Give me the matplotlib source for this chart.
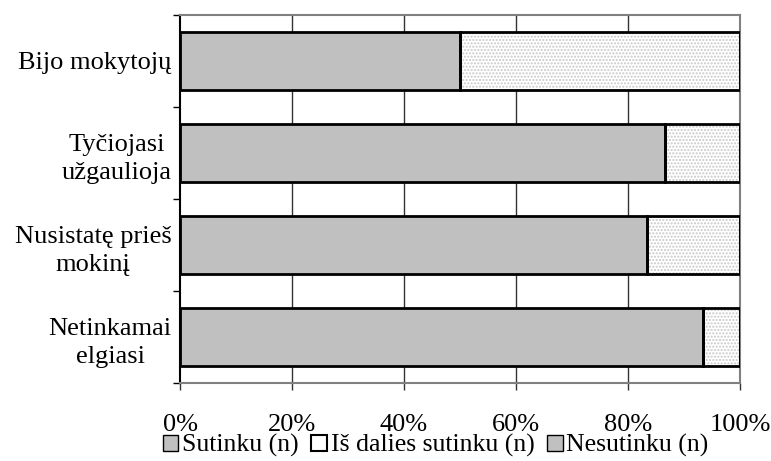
import matplotlib.pyplot as plt
from matplotlib.patches import Patch
import numpy as np

plt.rcParams['font.family'] = ['Liberation Serif', 'DejaVu Serif']

categories = ["Bijo mokytojų", "Tyčiojasi\nužgaulioja", "Nusistatę prieš\nmokinį", "Netinkamai\nelgiasi"]
sutinku = [15, 26, 25, 28]
is_dalies = [15, 4, 5, 2]
nesutinku = [0, 0, 0, 0]
xticks = [0, 20, 40, 60, 80, 100]
xlabels = ["0%", "20%", "40%", "60%", "80%", "100%"]

s = np.array(sutinku, float)
d = np.array(is_dalies, float)
n = np.array(nesutinku, float)
tot = s + d + n
s_pct = s / tot * 100
d_pct = d / tot * 100
n_pct = n / tot * 100

fig = plt.figure(figsize=(7.71, 4.61), dpi=100)
ax = fig.add_axes([180/771, 1 - 383/461, 560/771, 368/461])

y = np.arange(len(categories))[::-1]
h = 0.62

# fills
ax.barh(y, s_pct, height=h, color='#c0c0c0', linewidth=0, zorder=2)
ax.barh(y, d_pct, left=s_pct, height=h, facecolor='white', hatch='.....',
        edgecolor='#c8c8c8', linewidth=0, zorder=2)
ax.barh(y, n_pct, left=s_pct + d_pct, height=h, facecolor='#c0c0c0', hatch='|||',
        edgecolor='#808080', linewidth=0, zorder=2)
# outlines
for vals, left in [(s_pct, 0), (d_pct, s_pct), (n_pct, s_pct + d_pct)]:
    ax.barh(y, vals, left=left, height=h, fill=False, edgecolor='black',
            linewidth=2, zorder=3)

ax.set_xlim(0, 100)
ax.set_ylim(-0.5, len(categories) - 0.5)
ax.set_xticks(xticks)
ax.set_xticklabels(xlabels, fontsize=19)
ax.set_yticks(y)
ax.set_yticklabels(categories, fontsize=19, multialignment='center', linespacing=1.4)
ax.set_yticks(np.arange(len(categories) + 1) - 0.5, minor=True)
ax.tick_params(axis='y', which='major', length=0, pad=6)
ax.tick_params(axis='y', which='minor', length=5, width=1, direction='out', color='black')
ax.tick_params(axis='x', which='major', length=5, width=1, direction='out', pad=17,
               color='#333333')

for xv in xticks[1:-1]:
    ax.axvline(xv, color='#333333', linewidth=1, zorder=1)

ax.spines['left'].set_color('black')
ax.spines['left'].set_linewidth(1.5)
for side in ['top', 'right', 'bottom']:
    ax.spines[side].set_color('#808080')
    ax.spines[side].set_linewidth(1.5)

handles = [
    Patch(facecolor='#c0c0c0', edgecolor='black', linewidth=1),
    Patch(facecolor='white', edgecolor='black', linewidth=1.5),
    Patch(facecolor='#c0c0c0', edgecolor='black', linewidth=1),
]
fig.legend(handles, ["Sutinku (n)", "Iš dalies sutinku (n)", "Nesutinku (n)"],
           loc='lower center', bbox_to_anchor=(0.565, -0.02), ncol=3, frameon=False,
           fontsize=18.5, handlelength=0.6, handleheight=0.6, handletextpad=0.15,
           columnspacing=0.5, borderaxespad=0.1)

fig.savefig('out.png', dpi=100)
